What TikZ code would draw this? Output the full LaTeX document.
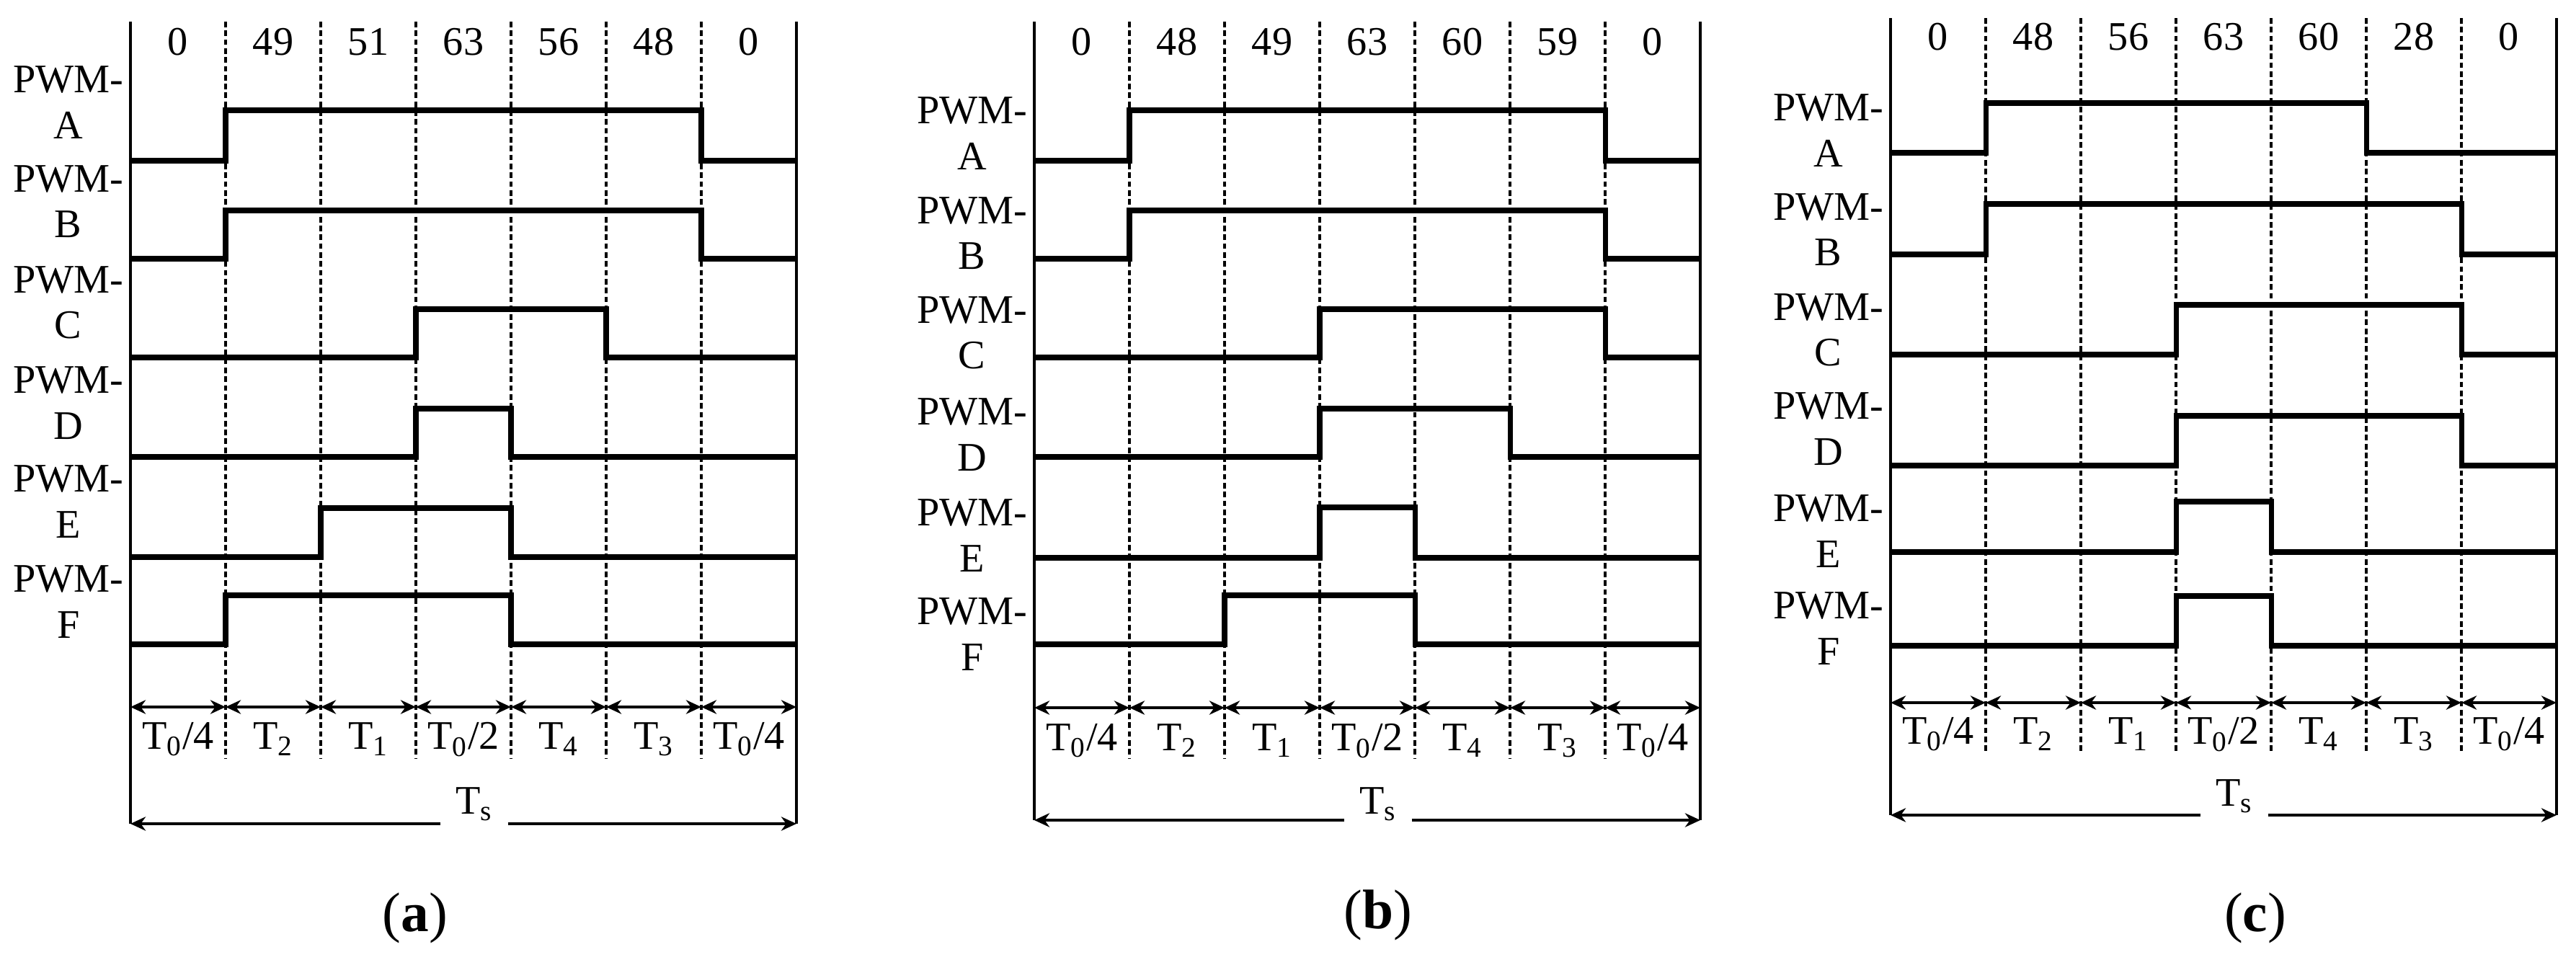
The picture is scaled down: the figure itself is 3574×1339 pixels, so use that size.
\documentclass[tikz,border=0pt]{standalone}
\usepackage{fontspec}
\setmainfont{Liberation Serif}
\usetikzlibrary{arrows.meta}

\begin{document}
\begin{tikzpicture}[x=0.01cm, y=-0.01cm, >={Stealth[length=6pt, width=5.5pt]},
		every node/.style={font=\fontsize{16}{18}\selectfont, inner sep=0pt},
		panelline/.style={line width=1.2pt},
		sigline/.style={line width=2pt},
		slotline/.style={line width=1.05pt, dash pattern=on 2.2pt off 1.3pt},
		dimline/.style={line width=1.2pt},
		siglabel/.style={anchor=east, align=center},
		caption/.style={font=\fontsize{22}{26}\selectfont}]
	\useasboundingbox (0,0) rectangle (3574,1339);

	\begin{scope}[shift={(181,0)}]
		\draw[panelline] (0,30) -- (0,1143) (924,30) -- (924,1143);
		\foreach \k in {1,...,6}
			\draw[slotline] (\k*132,30) -- (\k*132,1052);
		\foreach \v [count=\k] in {0,49,51,63,56,48,0}
			\node (aN\k) at (\k*132-66,58) {\v};
		\foreach \s/\hi/\lo/\up/\dn/\ly in {A/153/223/1/6/142, B/292/359/1/6/280, C/429/496/3/5/420, D/567/634/3/4/559, E/705/773/2/4/696, F/826/894/1/4/835}
		{
			\draw[sigline] (0,\lo) -- (\up*132,\lo) -- (\up*132,\hi) -- (\dn*132,\hi) -- (\dn*132,\lo) -- (924,\lo);
			\node[siglabel] (a\s) at (-9,\ly) {PWM-\\\s};
		}
		\foreach \k in {0,...,7}
			\coordinate (aB\k) at (\k*132,981);
		\foreach \j [count=\k] in {0,...,5,6}
			\draw[dimline, <->] (aB\j) -- (aB\k);
		\foreach \t [count=\k] in {{T\textsubscript{0}/4}, {T\textsubscript{2}}, {T\textsubscript{1}}, {T\textsubscript{0}/2}, {T\textsubscript{4}}, {T\textsubscript{3}}, {T\textsubscript{0}/4}}
			\node (aT\k) at (\k*132-66,1026) {\t};
		\node[minimum width=0.92cm] (aTs) at (477,1116) {T\textsubscript{s}};
		\coordinate (aL) at (0,1143);
		\coordinate (aR) at (924,1143);
		\draw[dimline, <-] (aL) -- (aL -| aTs.west);
		\draw[dimline, ->] (aR -| aTs.east) -- (aR);
		\node[caption] (acap) at (395,1274) {(\textbf{a})};
	\end{scope}

	\begin{scope}[shift={(1435,0)}]
		\draw[panelline] (0,30) -- (0,1138) (924,30) -- (924,1138);
		\foreach \k in {1,...,6}
			\draw[slotline] (\k*132,30) -- (\k*132,1052);
		\foreach \v [count=\k] in {0,48,49,63,60,59,0}
			\node (bN\k) at (\k*132-66,58) {\v};
		\foreach \s/\hi/\lo/\up/\dn/\ly in {A/153/223/1/6/185, B/292/359/1/6/324, C/429/496/3/6/462, D/567/634/3/5/603, E/704/774/3/4/743, F/826/894/2/4/880}
		{
			\draw[sigline] (0,\lo) -- (\up*132,\lo) -- (\up*132,\hi) -- (\dn*132,\hi) -- (\dn*132,\lo) -- (924,\lo);
			\node[siglabel] (b\s) at (-9,\ly) {PWM-\\\s};
		}
		\foreach \k in {0,...,7}
			\coordinate (bB\k) at (\k*132,982);
		\foreach \j [count=\k] in {0,...,5,6}
			\draw[dimline, <->] (bB\j) -- (bB\k);
		\foreach \t [count=\k] in {{T\textsubscript{0}/4}, {T\textsubscript{2}}, {T\textsubscript{1}}, {T\textsubscript{0}/2}, {T\textsubscript{4}}, {T\textsubscript{3}}, {T\textsubscript{0}/4}}
			\node (bT\k) at (\k*132-66,1028) {\t};
		\node[minimum width=0.92cm] (bTs) at (477,1116) {T\textsubscript{s}};
		\coordinate (bL) at (0,1138);
		\coordinate (bR) at (924,1138);
		\draw[dimline, <-] (bL) -- (bL -| bTs.west);
		\draw[dimline, ->] (bR -| bTs.east) -- (bR);
		\node[caption] (bcap) at (477,1270) {(\textbf{b})};
	\end{scope}

	\begin{scope}[shift={(2623,0)}]
		\draw[panelline] (0,25) -- (0,1131) (924,25) -- (924,1131);
		\foreach \k in {1,...,6}
			\draw[slotline] (\k*132,25) -- (\k*132,1045);
		\foreach \v [count=\k] in {0,48,56,63,60,28,0}
			\node (cN\k) at (\k*132-66,51) {\v};
		\foreach \s/\hi/\lo/\up/\dn/\ly in {A/143/212/1/5/181, B/283/353/1/6/319, C/423/492/3/6/458, D/577/646/3/6/595, E/696/766/3/4/737, F/827/896/3/4/872}
		{
			\draw[sigline] (0,\lo) -- (\up*132,\lo) -- (\up*132,\hi) -- (\dn*132,\hi) -- (\dn*132,\lo) -- (924,\lo);
			\node[siglabel] (c\s) at (-9,\ly) {PWM-\\\s};
		}
		\foreach \k in {0,...,7}
			\coordinate (cB\k) at (\k*132,975);
		\foreach \j [count=\k] in {0,...,5,6}
			\draw[dimline, <->] (cB\j) -- (cB\k);
		\foreach \t [count=\k] in {{T\textsubscript{0}/4}, {T\textsubscript{2}}, {T\textsubscript{1}}, {T\textsubscript{0}/2}, {T\textsubscript{4}}, {T\textsubscript{3}}, {T\textsubscript{0}/4}}
			\node (cT\k) at (\k*132-66,1019) {\t};
		\node[minimum width=0.92cm] (cTs) at (477,1105) {T\textsubscript{s}};
		\coordinate (cL) at (0,1131);
		\coordinate (cR) at (924,1131);
		\draw[dimline, <-] (cL) -- (cL -| cTs.west);
		\draw[dimline, ->] (cR -| cTs.east) -- (cR);
		\node[caption] (ccap) at (506,1274) {(\textbf{c})};
	\end{scope}
\end{tikzpicture}
\end{document}
